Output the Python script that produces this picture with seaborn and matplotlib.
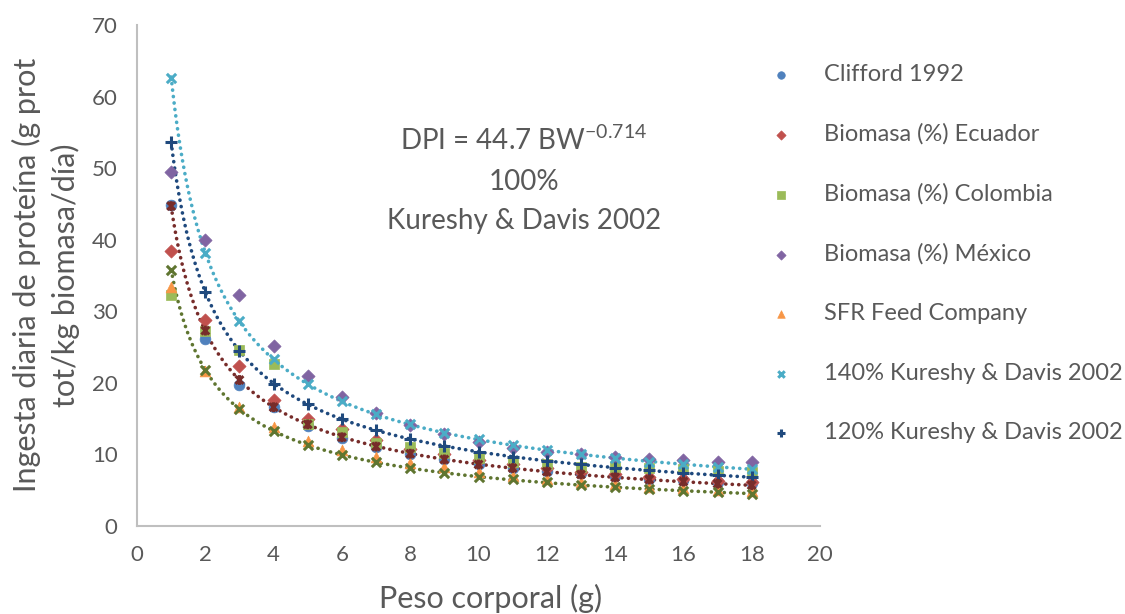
import numpy as np
import pandas as pd
import matplotlib
matplotlib.use("Agg")
import matplotlib.pyplot as plt
from matplotlib.path import Path
import seaborn as sns

# ---------------- data ----------------
peso = list(range(1, 19))
clifford = [44.8, 26.1, 19.7, 16.6, 14.0, 12.3, 11.0, 10.0, 9.3, 8.6, 8.1, 7.7, 7.4, 7.0, 6.6, 6.4, 6.2, 6.0]
ecuador = [38.4, 28.8, 22.4, 17.6, 15.0, 13.5, 12.0, 10.8, 10.0, 9.2, 8.6, 8.1, 7.6, 7.2, 6.9, 6.6, 6.3, 6.1]
colombia = [32.3, 27.2, 24.6, 22.6, 14.3, 13.2, 11.6, 11.1, 10.2, 9.5, 9.0, 8.7, 8.3, 8.3, 8.1, 7.9, 7.7, 7.6]
mexico = [49.5, 40.0, 32.3, 25.2, 21.0, 18.0, 15.8, 14.1, 12.8, 11.8, 10.9, 10.4, 10.1, 9.7, 9.3, 9.2, 9.0, 9.0]
sfr = [33.4, 21.6, 16.6, 13.8, 11.9, 10.6, 9.7, 8.8, 8.2, 7.6, 7.0, 6.5, 6.2, 5.8, 5.5, 5.3, 5.0, 4.9]
k140 = [62.6, 38.2, 28.6, 23.3, 19.8, 17.4, 15.6, 14.2, 13.0, 12.1, 11.3, 10.6, 10.0, 9.5, 9.0, 8.6, 8.3, 7.9]
k120 = [53.6, 32.7, 24.5, 19.9, 17.0, 14.9, 13.4, 12.1, 11.2, 10.4, 9.7, 9.1, 8.6, 8.1, 7.8, 7.4, 7.1, 6.8]
k100 = [44.7, 27.3, 20.4, 16.6, 14.2, 12.4, 11.1, 10.1, 9.3, 8.6, 8.1, 7.6, 7.2, 6.8, 6.5, 6.2, 5.9, 5.7]
k80 = [35.8, 21.8, 16.3, 13.3, 11.3, 9.9, 8.9, 8.1, 7.4, 6.9, 6.5, 6.1, 5.7, 5.4, 5.2, 4.9, 4.7, 4.5]

labels = ["Clifford 1992", "Biomasa (%) Ecuador", "Biomasa (%) Colombia",
          "Biomasa (%) México", "SFR Feed Company", "140% Kureshy & Davis 2002",
          "120% Kureshy & Davis 2002", "100% Kureshy & Davis 2002", "80% Kureshy & Davis 2002"]
x_ticks = list(range(0, 21, 2))
y_ticks = list(range(0, 71, 10))
annot_lines = ["DPI = 44.7 BW$^{\\mathregular{-0.714}}$", "100%", "Kureshy & Davis 2002"]

# ---------------- style ----------------
sns.set_theme(style="white")
plt.rcParams["font.family"] = ["Lato", "DejaVu Sans"]
plt.rcParams["mathtext.fontset"] = "custom"
plt.rcParams["mathtext.rm"] = "Lato"
plt.rcParams["mathtext.it"] = "Lato:italic"
plt.rcParams["mathtext.bf"] = "Lato:bold"
plt.rcParams["mathtext.sf"] = "Lato"
TXT = "#595959"

star = Path([(0, -1), (0, 1), (-0.8, -0.8), (0.8, 0.8), (-0.8, 0.8), (0.8, -0.8)],
            [Path.MOVETO, Path.LINETO] * 3)

series = [
    (clifford, "o", "#4F81BD", 60, True, True),
    (ecuador, "D", "#C0504D", 45, True, True),
    (colombia, "s", "#9BBB59", 55, True, True),
    (mexico, "D", "#8064A2", 45, True, True),
    (sfr, "^", "#F79646", 60, True, True),
    (k140, "x", "#4BACC6", 45, False, True),
    (k120, "+", "#1F497D", 70, False, True),
    (k100, star, "#772C2A", 50, False, False),
    (k80, "x", "#5F7530", 45, False, False),
]
trend = [(k140, "#4BACC6"), (k120, "#1F497D"), (k100, "#772C2A"), (k80, "#5F7530")]

fig = plt.figure(figsize=(11.25, 6.14), dpi=100)
ax = fig.add_axes([137 / 1125, 1 - 526 / 614, (820 - 137) / 1125, (526 - 25) / 614])

xs = np.array(peso, dtype=float)
grid = np.linspace(1, 18, 300)
for vals, col in trend:
    b, a = np.polyfit(np.log(xs), np.log(np.array(vals)), 1)
    sns.lineplot(x=grid, y=np.exp(a) * grid ** b, ax=ax, color=col, lw=2.6,
                 linestyle=(0, (0.05, 1.75)), dash_capstyle="round", zorder=2,
                 label="_nolegend_")

for (vals, mk, col, s, filled, inleg), lab in zip(series, labels):
    if filled:
        kw = dict(edgecolor=col, linewidth=0.5)
    else:
        kw = dict(edgecolor=col, facecolor=col if not isinstance(mk, Path) else "none",
                  linewidth=2.2)
    sns.scatterplot(x=peso, y=vals, marker=mk, color=col, s=s, ax=ax,
                    label=lab if inleg else "_nolegend_", zorder=3, **kw)

ax.set_xlim(0, 20)
ax.set_ylim(0, 70)
ax.set_xticks(x_ticks)
ax.set_yticks(y_ticks)
ax.tick_params(axis="both", length=0, labelsize=16, labelcolor=TXT, pad=14)
for side in ["top", "right"]:
    ax.spines[side].set_visible(False)
for side in ["left", "bottom"]:
    ax.spines[side].set_color("#BFBFBF")
    ax.spines[side].set_linewidth(1.5)
ax.grid(False)

ax.set_xlabel("Peso corporal (g)", fontsize=22, color=TXT)
ax.xaxis.set_label_coords((491 - 137) / 683, -(584 - 526) / 501)
ax.set_ylabel("Ingesta diaria de proteína (g prot\ntot/kg biomasa/día)", fontsize=22,
              color=TXT, linespacing=1.4)
ax.yaxis.set_label_coords(-(137 - 80) / 683, (526 - 275) / 501)

ys_annot = [140, 182, 221]
for t, yp in zip(annot_lines, ys_annot):
    fig.text(524 / 1125, 1 - yp / 614, t, ha="center", va="center", fontsize=20, color=TXT)

h, l = ax.get_legend_handles_labels()
leg = ax.legend(h, l, loc="upper left", bbox_to_anchor=(770 / 1125, 1 - 64 / 614),
                bbox_transform=fig.transFigure, frameon=False, fontsize=17,
                labelspacing=1.63, handlelength=0.9, handletextpad=1.4,
                borderpad=0, borderaxespad=0, markerscale=0.7)
for t in leg.get_texts():
    t.set_color(TXT)

fig.savefig("out.png", dpi=100)
